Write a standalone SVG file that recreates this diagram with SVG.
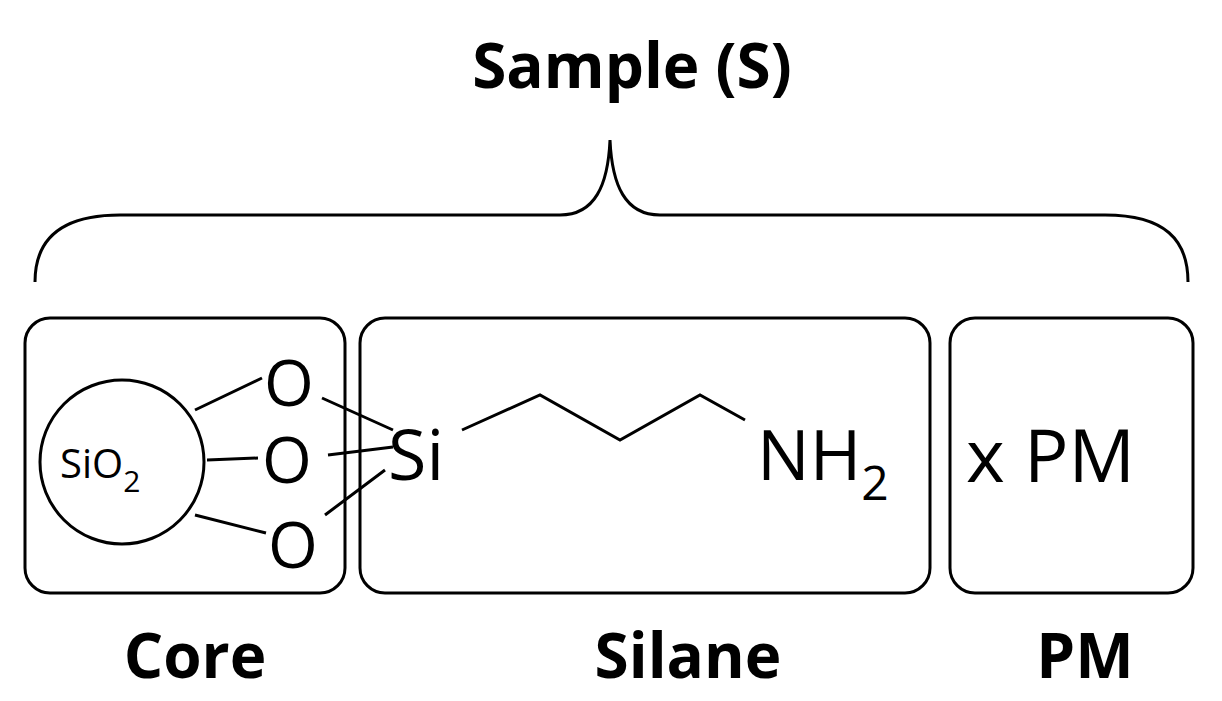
<svg xmlns="http://www.w3.org/2000/svg" width="1222" height="701" viewBox="0 0 1222 701">
<style>
.s{fill:none;stroke:#000;stroke-width:3}
.b{font-family:"Open Sans","Liberation Sans",sans-serif;font-weight:bold;font-size:62px;text-anchor:middle}
.a{font-family:"Open Sans","Liberation Sans",sans-serif;font-size:70px}
.o{font-family:"Open Sans","Liberation Sans",sans-serif;font-size:64px}
</style>
<rect width="1222" height="701" fill="#fff"/>
<text class="b" x="632" y="88" style="font-size:62px">Sample (S)</text>
<g id="brace"><path class="s" d="M35,282 C35,240 60,215 120,215 L560,215 C595,215 608,185 610,140 C612,185 625,215 660,215 L1105,215 C1165,215 1188,240 1188,282"/></g>
<g id="core">
<rect class="s" x="25" y="318" width="320" height="275" rx="25"/>
<circle class="s" cx="122" cy="462" r="82"/>
<text x="60" y="478" style="font-family:'Open Sans','Liberation Sans',sans-serif;font-size:40px">SiO<tspan font-size="30" dy="14">2</tspan></text>
<text class="o" x="264" y="406">O</text>
<text class="o" x="262" y="483">O</text>
<text class="o" x="268" y="568">O</text>
</g>
<g id="silane">
<rect class="s" x="360" y="318" width="570" height="275" rx="25"/>
<text class="a" x="388" y="480">Si</text>
<text class="a" x="757" y="480">NH<tspan font-size="48" dy="20">2</tspan></text>
</g>
<g id="pm">
<rect class="s" x="950" y="318" width="243" height="275" rx="25"/>
<text class="a" x="966" y="482" style="font-size:74px">x PM</text>
</g>
<g id="connectors" class="s">
<path d="M195,410 L262,378 M207,460 L258,458 M195,515 L266,533 M322,398 L393,430 M328,455 L393,447 M325,515 L385,470 M462,430 L540,395 L620,440 L700,395 L745,420"/>
</g>
<text class="b" x="195" y="678">Core</text>
<text class="b" x="688" y="678">Silane</text>
<text class="b" x="1085" y="678">PM</text>
</svg>
